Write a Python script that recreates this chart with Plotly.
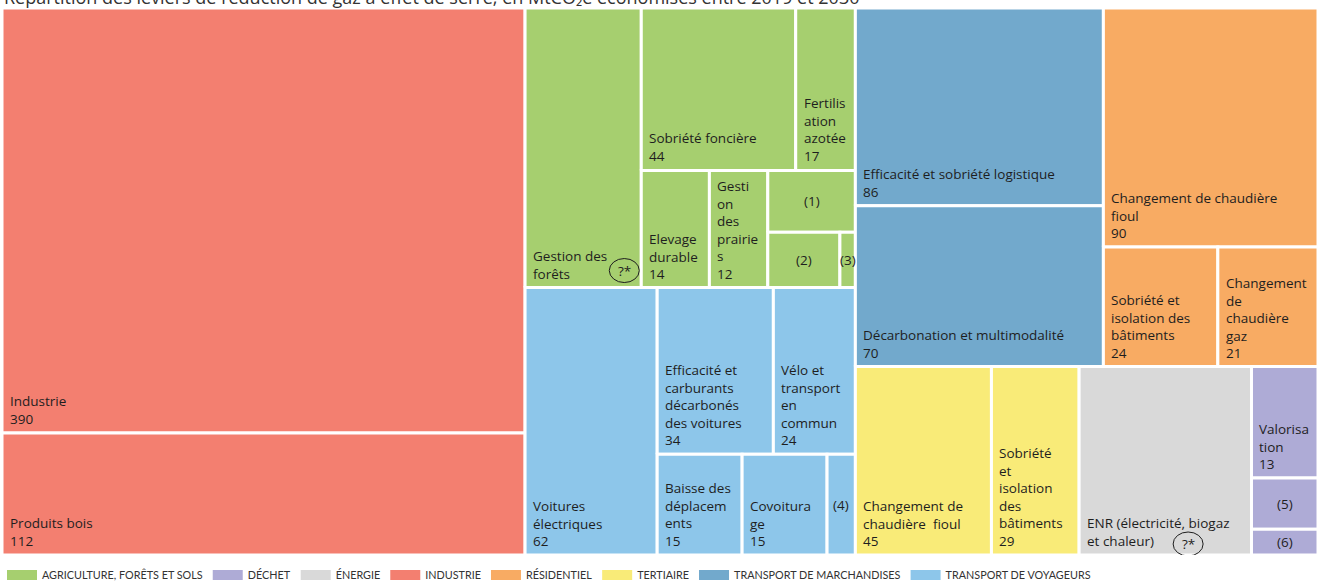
import plotly.graph_objects as go

# ---------------- data ----------------
sectors = ["AGRICULTURE, FORÊTS ET SOLS", "DÉCHET", "ÉNERGIE", "INDUSTRIE",
           "RÉSIDENTIEL", "TERTIAIRE", "TRANSPORT DE MARCHANDISES", "TRANSPORT DE VOYAGEURS"]
sector_colors = ["#A6CF6F", "#AEABD6", "#D9D9D9", "#F37F70",
                 "#F8AB63", "#F9EB78", "#72A9CC", "#8DC6EA"]

# leaf labels (line breaks as in the original figure)
labels = [
    "Industrie", "Produits bois",
    "Gestion des<br>forêts", "Sobriété foncière", "Fertilis<br>ation<br>azotée",
    "Elevage<br>durable", "Gesti<br>on<br>des<br>prairie<br>s", "(1)", "(2)", "(3)",
    "Voitures<br>électriques", "Efficacité et<br>carburants<br>décarbonés<br>des voitures",
    "Vélo et<br>transport<br>en<br>commun", "Baisse des<br>déplacem<br>ents", "Covoitura<br>ge", "(4)",
    "Efficacité et sobriété logistique", "Décarbonation et multimodalité",
    "Changement de chaudière<br>fioul", "Sobriété et<br>isolation des<br>bâtiments",
    "Changement<br>de<br>chaudière<br>gaz",
    "Changement de<br>chaudière  fioul", "Sobriété<br>et<br>isolation<br>des<br>bâtiments",
    "ENR (électricité, biogaz<br>et chaleur)",
    "Valorisa<br>tion", "(5)", "(6)",
]
# MtCO2e (unlabelled ones estimated from the tile areas)
values = [390, 112,
          57, 44, 17, 14, 12, 9.5, 7, 1.5,
          62, 34, 24, 15, 15, 5,
          86, 70,
          90, 24, 21,
          45, 29,
          57,
          13, 6, 3]
value_shown = [True, True,
               False, True, True, True, True, False, False, False,
               True, True, True, True, True, False,
               True, True,
               True, True, True,
               True, True,
               False,
               True, False, False]
unknown_mark = [False, False,
                True, False, False, False, False, False, False, False,
                False, False, False, False, False, False,
                False, False,
                False, False, False,
                False, False,
                True,
                False, False, False]
leaf_sector = [3, 3,
               0, 0, 0, 0, 0, 0, 0, 0,
               7, 7, 7, 7, 7, 7,
               6, 6,
               4, 4, 4,
               5, 5,
               2,
               1, 1, 1]

title_text = "Répartition des leviers de réduction de gaz à effet de serre, en MtCO₂e économisés entre 2019 et 2030"

# tiling structure (h = side by side, v = stacked), leaves refer to indices above
AGR = ("h", [2, ("v", [("h", [3, 4]), ("h", [5, 6, ("v", [7, ("h", [8, 9])])])])])
VOY = ("h", [10, ("v", [("h", [11, 12]), ("h", [13, 14, 15])])])
REST = ("v", [("h", [("v", [16, 17]), ("v", [18, ("h", [19, 20])])]),
              ("h", [("h", [21, 22]), 23, ("v", [24, 25, 26])])])
TILING = ("h", [("v", [0, 1]), ("v", [AGR, VOY]), REST])


def total(node):
    if isinstance(node, int):
        return values[node]
    return sum(total(c) for c in node[1])


rects = {}


def tile(node, x0, y0, x1, y1):  # y0 bottom, y1 top
    if isinstance(node, int):
        rects[node] = tuple(min(1.0, max(0.0, round(v, 9))) for v in (x0, y0, x1, y1))
        return
    orient, children = node
    tot = total(node)
    if orient == "h":
        cx = x0
        for c in children:
            w = (x1 - x0) * total(c) / tot
            tile(c, cx, y0, cx + w, y1)
            cx += w
    else:
        cy = y1
        for c in children:
            h = (y1 - y0) * total(c) / tot
            tile(c, x0, cy - h, x1, cy)
            cy -= h


tile(TILING, 0.0, 0.0, 1.0, 1.0)

fig = go.Figure()
FONT = "'Open Sans', 'Noto Sans', sans-serif"
TXT = dict(size=13.5, color="#1e1e1e", family=FONT)
annotations = []
shapes = []
for i in range(len(labels)):
    x0, y0, x1, y1 = rects[i]
    s = leaf_sector[i]
    fig.add_trace(go.Scatter(
        x=[x0, x1, x1, x0, x0], y=[y0, y0, y1, y1, y0],
        mode="lines", fill="toself", fillcolor=sector_colors[s],
        line=dict(color="white", width=3),
        name=labels[i].replace("<br>", " "), showlegend=False,
        hoverinfo="text", text=f"{labels[i].replace('<br>', ' ')}: {values[i]}",
    ))
    if labels[i].startswith("("):
        annotations.append(dict(x=(x0 + x1) / 2, y=(y0 + y1) / 2, xref="x", yref="y",
                                text=labels[i], showarrow=False, xanchor="center", yanchor="middle",
                                font=TXT))
    else:
        txt = labels[i] + (f"<br>{values[i]:g}" if value_shown[i] else "")
        annotations.append(dict(x=x0, y=y0, xref="x", yref="y", text=txt, showarrow=False,
                                xanchor="left", yanchor="bottom", align="left",
                                xshift=6, yshift=3, font=TXT))
    if unknown_mark[i]:
        if s == 0:
            ax, ay, dx, dy = x1, y0, -17, 17
        else:
            ax, ay, dx, dy = x0, y0, 109, 11
        shapes.append(dict(type="circle", xref="x", yref="y", xsizemode="pixel", ysizemode="pixel",
                           xanchor=ax, yanchor=ay, x0=dx - 15, x1=dx + 15, y0=dy - 12, y1=dy + 12,
                           line=dict(color="#1e1e1e", width=1)))
        annotations.append(dict(x=ax, y=ay, xref="x", yref="y", text="?*", showarrow=False,
                                xanchor="center", yanchor="middle", xshift=dx, yshift=dy,
                                font=TXT))

# legend entries
for k, name in enumerate(sectors):
    fig.add_trace(go.Scatter(
        x=[None], y=[None], mode="lines",
        line=dict(color=sector_colors[k], width=12),
        name=name, showlegend=True, legendrank=k + 1, hoverinfo="skip",
    ))

annotations.append(dict(x=0, y=1, xref="paper", yref="paper", text=title_text, showarrow=False,
                        xanchor="left", yanchor="bottom", yshift=-3, xshift=0,
                        font=dict(size=18, color="#333333", family=FONT)))

fig.update_layout(
    width=1319, height=587,
    margin=dict(l=2, r=1, t=8, b=32, autoexpand=False),
    paper_bgcolor="white", plot_bgcolor="white",
    xaxis=dict(range=[0, 1], visible=False, fixedrange=True),
    yaxis=dict(range=[0, 1], visible=False, fixedrange=True),
    showlegend=True,
    legend=dict(orientation="h", x=0, xanchor="left", y=-0.01, yanchor="top",
                font=dict(size=10.8, color="#333333", family="Lato, sans-serif"),
                itemwidth=30, tracegroupgap=0),
    annotations=annotations, shapes=shapes,
    hovermode="closest",
)

fig.write_html("out.html", post_script="document.body.style.margin='0';",
               config={"displayModeBar": False})
